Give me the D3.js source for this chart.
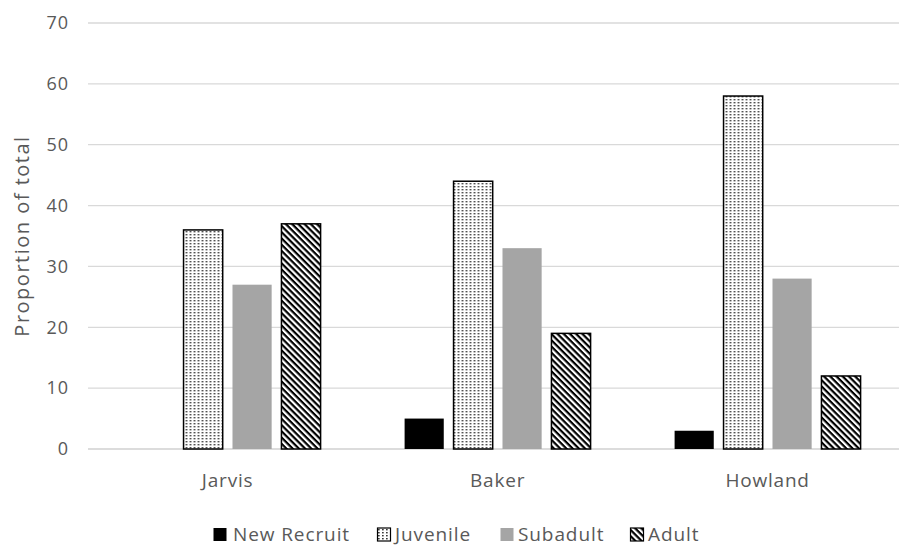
<!DOCTYPE html>
<html lang="en">
<head>
    <meta charset="UTF-8">
    <title>Proportion of total</title>
    <script src="https://cdn.jsdelivr.net/npm/d3@7"></script>
    <style>
        html,
        body {
            margin: 0;
            background: #fff;
            overflow: hidden;
        }
        svg {
            display: block;
        }
        text {
            font-family: "Open Sans", "Noto Sans", sans-serif;
            fill: #595959;
        }
    </style>
</head>
<body>
<svg id="container"></svg>
<script>
    const sites = ['Jarvis', 'Baker', 'Howland'];
    const stages = ['New Recruit', 'Juvenile', 'Subadult', 'Adult'];
    const newRecruit = [0, 5, 3];
    const juvenile = [36, 44, 58];
    const subadult = [27, 33, 28];
    const adult = [37, 19, 12];
    const yTicks = [0, 10, 20, 30, 40, 50, 60, 70];

    const seriesValues = [newRecruit, juvenile, subadult, adult];

    const width = 899, height = 545;
    const svg = d3.select('#container').attr('width', width).attr('height', height);

    const margin = {top: 23, left: 92.6, bottom: 96, right: -3.6};
    const innerWidth = width - margin.left - margin.right;
    const innerHeight = height - margin.top - margin.bottom;

    // patterns
    const defs = svg.append('defs');
    const dots = defs.append('pattern')
        .attr('id', 'dots')
        .attr('patternUnits', 'userSpaceOnUse')
        .attr('width', 4).attr('height', 3);
    dots.append('rect').attr('width', 4).attr('height', 3).attr('fill', '#fff');
    dots.append('rect').attr('x', 1).attr('y', 1).attr('width', 1.7).attr('height', 1.4).attr('fill', '#3a3a3a');

    const stripes = defs.append('pattern')
        .attr('id', 'stripes')
        .attr('patternUnits', 'userSpaceOnUse')
        .attr('width', 4.4).attr('height', 4.4)
        .attr('patternTransform', 'rotate(45)');
    stripes.append('rect').attr('width', 4.4).attr('height', 4.4).attr('fill', '#fff');
    stripes.append('rect').attr('width', 4.4).attr('height', 2.2).attr('fill', '#000');

    const fills = ['#000', 'url(#dots)', '#a5a5a5', 'url(#stripes)'];
    const strokes = ['none', '#000', 'none', '#000'];

    const x0 = d3.scaleBand().domain(sites).range([0, innerWidth]);
    const groupW = 186;
    const x1 = d3.scaleBand().domain(stages)
        .range([(x0.bandwidth() - groupW) / 2, (x0.bandwidth() + groupW) / 2])
        .paddingInner(0.2);

    const y = d3.scaleLinear().domain([0, 70]).range([innerHeight, 0]);

    const g = svg.append('g').attr('transform', `translate(${margin.left},${margin.top})`);

    // gridlines
    g.append('g')
        .selectAll('line')
        .data(yTicks)
        .join('line')
        .attr('x1', 88 - margin.left)
        .attr('x2', width - margin.left)
        .attr('y1', d => y(d))
        .attr('y2', d => y(d))
        .attr('stroke', d => d === 0 ? '#d0d0d0' : '#d9d9d9')
        .attr('stroke-width', 1.3);

    const yAxis = d3.axisLeft(y).tickValues(yTicks).tickSize(0).tickPadding(0);
    g.append('g')
        .attr('transform', `translate(${69 - margin.left},0)`)
        .call(yAxis)
        .call(a => a.select('.domain').remove())
        .selectAll('text')
        .style('font-size', '18px')
        .style('letter-spacing', '1px')
        .attr('fill', '#595959');

    // bars
    const rows = [];
    sites.forEach((s, i) => stages.forEach((st, j) => rows.push({site: s, stage: st, j, value: seriesValues[j][i]})));

    g.append('g')
        .selectAll('rect')
        .data(rows.filter(d => d.value > 0))
        .join('rect')
        .attr('x', d => x0(d.site) + x1(d.stage))
        .attr('y', d => y(d.value))
        .attr('width', x1.bandwidth())
        .attr('height', d => y(0) - y(d.value))
        .attr('fill', d => fills[d.j])
        .attr('stroke', d => strokes[d.j])
        .attr('stroke-width', 1.5);

    // category labels
    g.append('g')
        .selectAll('text')
        .data(sites)
        .join('text')
        .attr('x', d => x0(d) + x0.bandwidth() / 2)
        .attr('y', y(0) + 38)
        .attr('text-anchor', 'middle')
        .style('font-size', '19px')
        .style('letter-spacing', '0.8px')
        .text(d => d);

    // y title
    svg.append('text')
        .attr('transform', `translate(29,${margin.top + innerHeight / 2}) rotate(-90)`)
        .attr('text-anchor', 'middle')
        .style('font-size', '20px')
        .style('letter-spacing', '1.5px')
        .text('Proportion of total');

    // legend
    const legendX = [213, 377, 500, 630];
    const legend = svg.append('g').attr('transform', 'translate(0,534)');
    const item = legend.selectAll('g')
        .data(stages)
        .join('g')
        .attr('transform', (d, i) => `translate(${legendX[i]},0)`);
    item.append('rect')
        .attr('x', 0.5).attr('y', -6)
        .attr('width', 13).attr('height', 13)
        .attr('fill', (d, i) => fills[i])
        .attr('stroke', (d, i) => strokes[i])
        .attr('stroke-width', 1.2);
    item.append('text')
        .attr('x', (d, i) => i === 0 ? 20 : 18)
        .attr('y', 7)
        .style('font-size', '19px')
        .style('letter-spacing', '0.9px')
        .text(d => d);
</script>
</body>
</html>
